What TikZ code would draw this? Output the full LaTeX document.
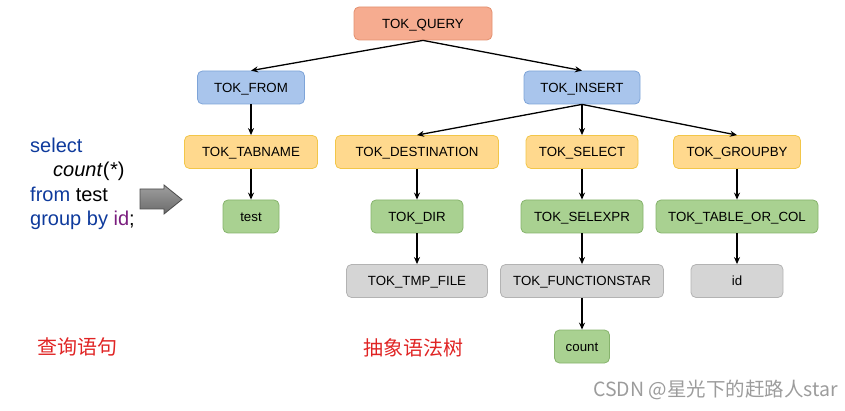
\documentclass[tikz,border=0pt]{standalone}
\usepackage{fontspec}
\setmainfont{Liberation Sans}
\newfontfamily\cjk{Noto Sans CJK SC}
\usetikzlibrary{arrows.meta}
\definecolor{qfill}{HTML}{F6AC90}
\definecolor{qdraw}{HTML}{E3906F}
\definecolor{bfill}{HTML}{A9C5EC}
\definecolor{bdraw}{HTML}{7EA4D8}
\definecolor{yfill}{HTML}{FFD98E}
\definecolor{ydraw}{HTML}{F2C649}
\definecolor{gfill}{HTML}{A9D191}
\definecolor{gdraw}{HTML}{86B36C}
\definecolor{kfill}{HTML}{D5D5D5}
\definecolor{kdraw}{HTML}{B3B3B3}
\definecolor{sqlblue}{HTML}{0E3A9C}
\definecolor{sqlpurple}{HTML}{7A1D7E}
\definecolor{labelred}{HTML}{E02424}
\definecolor{wmgray}{HTML}{9C9C9C}
\begin{document}
\begin{tikzpicture}[x=1pt,y=-1pt,
  box/.style={rounded corners=5pt, line width=0.8pt, minimum height=33pt, inner sep=0pt,
    text height=9.5pt, text depth=0pt,
    font=\fontsize{13.3}{15}\selectfont, text=black},
  qbox/.style={box, fill=qfill, draw=qdraw},
  bbox/.style={box, fill=bfill, draw=bdraw},
  ybox/.style={box, fill=yfill, draw=ydraw},
  gbox/.style={box, fill=gfill, draw=gdraw},
  kbox/.style={box, fill=kfill, draw=kdraw},
  conn/.style={line width=1.3pt, -{Stealth[length=7pt,width=6pt]}},
  sql/.style={anchor=base west, inner sep=0pt, font=\fontsize{20}{22}\selectfont},
  cnlabel/.style={anchor=west, inner sep=0pt, text=labelred, font=\cjk\fontsize{20}{22}\selectfont}
]
\useasboundingbox (0,0) rectangle (845,411);

% tree nodes
\node[qbox, minimum width=138pt] (q) at (423,23.5) {TOK\_QUERY};
\node[bbox, minimum width=107pt] (from) at (251,87.5) {TOK\_FROM};
\node[bbox, minimum width=116pt] (ins) at (582,87.5) {TOK\_INSERT};
\node[ybox, minimum width=133pt] (tab) at (251,152) {TOK\_TABNAME};
\node[ybox, minimum width=163pt] (dest) at (417,152) {TOK\_DESTINATION};
\node[ybox, minimum width=112pt] (sel) at (582,152) {TOK\_SELECT};
\node[ybox, minimum width=127pt] (grp) at (737,152) {TOK\_GROUPBY};
\node[gbox, minimum width=56pt] (test) at (251,216.5) {test};
\node[gbox, minimum width=92pt] (dir) at (417,216.5) {TOK\_DIR};
\node[gbox, minimum width=122pt] (selx) at (582,216.5) {TOK\_SELEXPR};
\node[gbox, minimum width=162pt] (tc) at (737,216.5) {TOK\_TABLE\_OR\_COL};
\node[kbox, minimum width=141pt] (tmp) at (417,281) {TOK\_TMP\_FILE};
\node[kbox, minimum width=163pt] (fs) at (582,281) {TOK\_FUNCTIONSTAR};
\node[kbox, minimum width=92pt] (id) at (737,281) {id};
\node[gbox, minimum width=55pt] (cnt) at (582,346.5) {count};

% connectors
\draw[conn] (q.south) -- (from.north);
\draw[conn] (q.south) -- (ins.north);
\draw[conn] (from.south) -- (tab.north);
\draw[conn] (tab.south) -- (test.north);
\draw[conn] (ins.south) -- (dest.north);
\draw[conn] (ins.south) -- (sel.north);
\draw[conn] (ins.south) -- (grp.north);
\draw[conn] (dest.south) -- (dir.north);
\draw[conn] (dir.south) -- (tmp.north);
\draw[conn] (sel.south) -- (selx.north);
\draw[conn] (selx.south) -- (fs.north);
\draw[conn] (fs.south) -- (cnt.north);
\draw[conn] (grp.south) -- (tc.north);
\draw[conn] (tc.south) -- (id.north);

% SQL query text
\node[sql, text=sqlblue] (l1) at (30,153) {select};
\node[sql] (l2) at (53,177) {\textit{count}(\textit{*})};
\node[sql] (l3) at (30,202) {{\color{sqlblue}from} test};
\node[sql] (l4) at (30,226) {{\color{sqlblue}group by} {\color{sqlpurple}id};};

% block arrow
\draw[line width=0.8pt, draw=black!70, top color=black!38, bottom color=black!58]
  (140,189) -- (164,189) -- (164,185) -- (182,199.5) -- (164,214) -- (164,209) -- (140,209) -- cycle;

% captions
\node[cnlabel] (c1) at (37,347) {查询语句};
\node[cnlabel] (c2) at (363,348) {抽象语法树};

% watermark
\node[anchor=east, inner sep=0pt, text=wmgray, font=\cjk\fontsize{19.5}{22}\selectfont] (wm) at (838,390) {CSDN @星光下的赶路人star};
\end{tikzpicture}
\end{document}
